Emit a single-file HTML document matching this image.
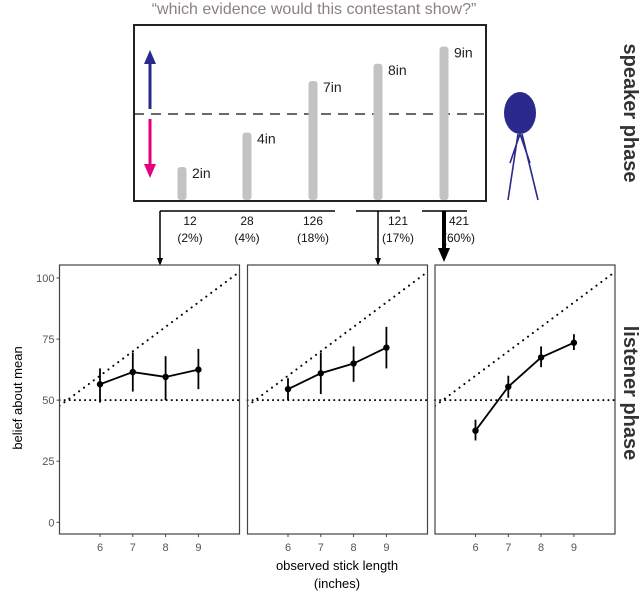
<!DOCTYPE html>
<html><head><meta charset="utf-8"><style>
body{margin:0;background:#fff;}
svg{display:block;font-family:"Liberation Sans",sans-serif;}
</style></head><body>
<svg id="fig" width="640" height="610" viewBox="0 0 640 610">
<defs>
<marker id="ah" markerWidth="8" markerHeight="8" refX="4" refY="4" orient="auto" markerUnits="userSpaceOnUse"><path d="M0,1 L8,4 L0,7 Z" fill="#000"/></marker>
<marker id="ahb" markerWidth="14" markerHeight="14" refX="7" refY="7" orient="auto" markerUnits="userSpaceOnUse"><path d="M0,1 L14,7 L0,13 Z" fill="#000"/></marker>
</defs>
<text x="314" y="14" text-anchor="middle" font-size="16" fill="#8a7f85">“which evidence would this contestant show?”</text>
<rect x="134" y="25" width="352" height="176" fill="none" stroke="#222" stroke-width="2"/>
<line x1="134" y1="114" x2="486" y2="114" stroke="#111" stroke-width="1.3" stroke-dasharray="10,7"/>
<line x1="150" y1="109" x2="150" y2="60" stroke="#2b2a8c" stroke-width="3"/>
<path d="M144,64 L150,50 L156,64 Z" fill="#2b2a8c"/>
<line x1="150" y1="119" x2="150" y2="168" stroke="#e6007e" stroke-width="3"/>
<path d="M144,164 L150,178 L156,164 Z" fill="#e6007e"/>
<g id="sticks"></g>
<g>
<ellipse cx="520" cy="113" rx="16" ry="21" fill="#2b2a8c"/>
<path d="M520,134 L510,163 M520,134 L530,163 M518,134 L508,200 M522,134 L538,200" stroke="#2b2a8c" stroke-width="1.6" fill="none"/>
</g>
<text transform="translate(624,113) rotate(90)" text-anchor="middle" font-size="20" font-weight="bold" fill="#333">speaker phase</text>
<g stroke="#000" stroke-width="1.5">
<line x1="160" y1="211" x2="335" y2="211"/>
<line x1="356" y1="211" x2="400" y2="211"/>
<line x1="422" y1="211" x2="467" y2="211"/>
<line x1="160" y1="211" x2="160" y2="262" marker-end="url(#ah)"/>
<line x1="378" y1="211" x2="378" y2="262" marker-end="url(#ah)"/>
<line x1="444" y1="211" x2="444" y2="255" stroke-width="4" marker-end="url(#ahb)"/>
</g>
<g id="counts" font-size="12" fill="#111" text-anchor="middle"></g>
<g id="panels"></g>
<text transform="translate(22,398) rotate(-90)" text-anchor="middle" font-size="13" fill="#000">belief about mean</text>
<text x="337" y="570" text-anchor="middle" font-size="13" fill="#000">observed stick length</text>
<text x="337" y="588" text-anchor="middle" font-size="13" fill="#000">(inches)</text>
<text transform="translate(624,393) rotate(90)" text-anchor="middle" font-size="20" font-weight="bold" fill="#333">listener phase</text>
</svg>
<script>
const stickLabels=["2in","4in","7in","8in","9in"];
const stickLengths=[2,4,7,8,9];
const countLabels=["12","28","126","121","421"];
const pctLabels=["(2%)","(4%)","(18%)","(17%)","(60%)"];
const xCats=[6,7,8,9];
const p1Mean=[56.5,61.5,59.5,62.5],p1Lo=[49,53.5,50,54.5],p1Hi=[63,69.5,68,71];
const p2Mean=[54.5,61,65,71.5],p2Lo=[50,52.5,57.5,63],p2Hi=[59,69.5,72,80];
const p3Mean=[37.5,55.5,67.5,73.5],p3Lo=[33.5,51,63.5,70.5],p3Hi=[42,60,72,77];
const yTicks=[0,25,50,75,100];
const NS="http://www.w3.org/2000/svg";
function mk(t,a,p){const e=document.createElementNS(NS,t);for(const k in a)e.setAttribute(k,a[k]);p.appendChild(e);return e;}
const sg=document.getElementById('sticks');
const stickX=[182,247,313,378,444];
function stickTop(v){return 200-(v-2)*17.2-33;}
stickLengths.forEach((v,i)=>{
 const r=mk('rect',{x:stickX[i]-4.5,y:stickTop(v),width:9,height:200-stickTop(v),rx:3,fill:'#c3c3c3'},sg);
 
 
 const t=mk('text',{x:stickX[i]+10,y:stickTop(v)+11,'font-size':14,fill:'#222'},sg);
 t.textContent=stickLabels[i];
 
 
});
const cg=document.getElementById('counts');
const countX=[190,247,313,398,459];
countLabels.forEach((c,i)=>{
 const t=mk('text',{x:countX[i],y:225},cg);t.textContent=c;
 
 
 const q=mk('text',{x:countX[i],y:242},cg);q.textContent=pctLabels[i];
 
 
});
const pg=document.getElementById('panels');
const lefts=[59.5,247.5,435];const W=180;const panelTop=265,panelBot=534;
const yS=v=>522.3-v*2.443;
const series=[[p1Mean,p1Lo,p1Hi],[p2Mean,p2Lo,p2Hi],[p3Mean,p3Lo,p3Hi]];
lefts.forEach((L,pi)=>{
 const xS=v=>L+40.5+(v-6)*32.8;
 const xMin=6-40.5/32.8,xMax=xMin+W/32.8;
 const g=mk('g',{},pg);
 
 
 const clip=mk('clipPath',{id:'c'+pi},g);mk('rect',{x:L,y:panelTop,width:W,height:panelBot-panelTop},clip);
 const d=mk('line',{x1:xS(xMin),y1:yS(xMin*10),x2:xS(xMax),y2:yS(xMax*10),stroke:'#000','stroke-width':2,'stroke-dasharray':'0.1,6','stroke-linecap':'round','clip-path':'url(#c'+pi+')'},g);
 
 
 const h=mk('line',{x1:L,y1:yS(50),x2:L+W,y2:yS(50),stroke:'#000','stroke-width':2,'stroke-dasharray':'0.1,5','stroke-linecap':'round'},g);
 
 
 const [m,lo,hi]=series[pi];
 xCats.forEach((c,i)=>{
  const e=mk('line',{x1:xS(c),y1:yS(lo[i]),x2:xS(c),y2:yS(hi[i]),stroke:'#000','stroke-width':1.8},g);
  
  
 });
 const pl=mk('polyline',{points:xCats.map((c,i)=>xS(c)+','+yS(m[i])).join(' '),fill:'none',stroke:'#000','stroke-width':1.8},g);
 
 
 xCats.forEach((c,i)=>{
  const p=mk('circle',{cx:xS(c),cy:yS(m[i]),r:3.2,fill:'#000'},g);
  
  
 });
 const fr=mk('rect',{x:L,y:panelTop,width:W,height:panelBot-panelTop,fill:'none',stroke:'#444','stroke-width':1.2},g);
 
 
 xCats.forEach(c=>{
  mk('line',{x1:xS(c),y1:panelBot,x2:xS(c),y2:panelBot+3,stroke:'#444'},g);
  const t=mk('text',{x:xS(c),y:panelBot+17,'font-size':11,fill:'#555','text-anchor':'middle'},g);t.textContent=c;
  
  
 });
 if(pi===0){yTicks.forEach(v=>{
  mk('line',{x1:L-3,y1:yS(v),x2:L,y2:yS(v),stroke:'#444'},g);
  const t=mk('text',{x:L-5,y:yS(v)+4,'font-size':11,fill:'#555','text-anchor':'end'},g);t.textContent=v;
  
  
 });}
});
</script>
</body></html>
